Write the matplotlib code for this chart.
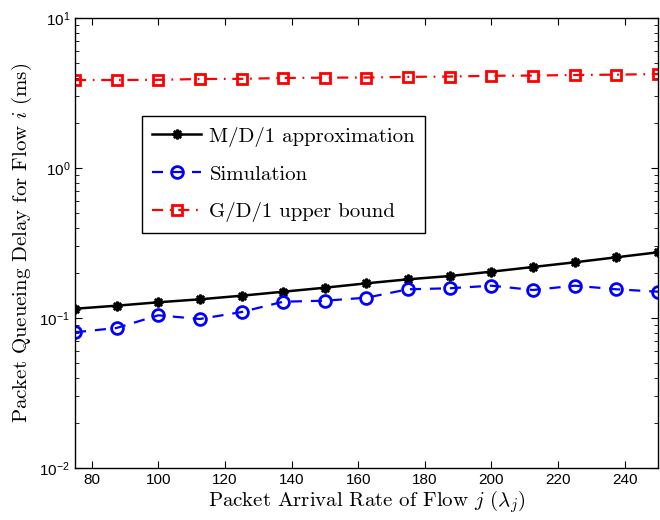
import numpy as np
import matplotlib
matplotlib.use("Agg")
import matplotlib.pyplot as plt
from matplotlib import ticker

x = [75, 87.5, 100, 112.5, 125, 137.5, 150, 162.5, 175, 187.5, 200, 212.5, 225, 237.5, 250]
md1 = [0.1153, 0.1208, 0.1273, 0.1332, 0.1408, 0.1497, 0.1592, 0.1703, 0.1811,
       0.1905, 0.2036, 0.2188, 0.2351, 0.2539, 0.2742]
sim = [0.0803, 0.0858, 0.1042, 0.0985, 0.1096, 0.1284, 0.1304, 0.1366, 0.1554,
       0.1578, 0.1642, 0.1537, 0.1642, 0.1554, 0.1497]
gd1 = [3.86, 3.86, 3.87, 3.92, 3.93, 3.98, 4.00, 4.01, 4.05, 4.07, 4.12, 4.13,
       4.17, 4.19, 4.23]
xticks = [80, 100, 120, 140, 160, 180, 200, 220, 240]
labels = ["M/D/1 approximation", "Simulation", "G/D/1 upper bound"]

plt.rcParams['mathtext.fontset'] = 'custom'
plt.rcParams['mathtext.rm'] = 'Liberation Sans'
plt.rcParams['mathtext.it'] = 'Liberation Sans:italic'
plt.rcParams['mathtext.bf'] = 'Liberation Sans:bold'
plt.rcParams['font.family'] = ['Liberation Sans', 'DejaVu Sans']

fig = plt.figure(figsize=(6.6, 5.2), dpi=100)
ax = fig.add_axes([0.1136, 0.1, 0.8834, 0.8654])

ax.plot(x, md1, color='black', lw=1.8, marker=(8, 2, 0), ms=7, mew=1.8,
        label=labels[0])
ax.plot(x, sim, color='blue', lw=1.6, ls=(0, (5, 4)), marker='o', ms=8.5,
        mfc='none', mew=2.0, label=labels[1])
ax.plot(x, gd1, color='red', lw=1.6, ls=(0, (5, 3, 0.8, 3)), marker='s', ms=7,
        mfc='none', mew=2.0, label=labels[2])

ax.set_yscale('log')
ax.set_xlim(75, 250)
ax.set_ylim(1e-2, 1e1)
ax.set_xticks(xticks)
ax.yaxis.set_major_locator(ticker.LogLocator(base=10, numticks=10))
ax.yaxis.set_minor_locator(ticker.LogLocator(base=10, subs=np.arange(2, 10), numticks=20))
ax.yaxis.set_minor_formatter(ticker.NullFormatter())
ax.yaxis.set_major_formatter(ticker.FuncFormatter(
    lambda v, p: r'$\mathregular{10^{%d}}$' % int(round(np.log10(v)))))
ax.tick_params(which='both', direction='in', top=True, right=True, labelsize=11)
ax.tick_params(which='major', length=5)
ax.tick_params(which='minor', length=3)
for s in ax.spines.values():
    s.set_linewidth(1.0)

ax.set_xlabel(r'Packet Arrival Rate of Flow $j$ ($\lambda_j$)', family='cmr10',
              math_fontfamily='cm', fontsize=15, labelpad=1)
ax.set_ylabel(r'Packet Queueing Delay for Flow $i$ (ms)', family='cmr10',
              math_fontfamily='cm', fontsize=15, labelpad=4)

leg = ax.legend(loc='upper left', bbox_to_anchor=(0.1145, 0.782), borderaxespad=0,
                fancybox=False, edgecolor='black', framealpha=1, borderpad=0.5,
                labelspacing=0.89, handlelength=2.35, handletextpad=0.4,
                prop={'family': 'cmr10', 'size': 15})
leg.get_frame().set_linewidth(1.0)

fig.savefig('out.png', dpi=100)
